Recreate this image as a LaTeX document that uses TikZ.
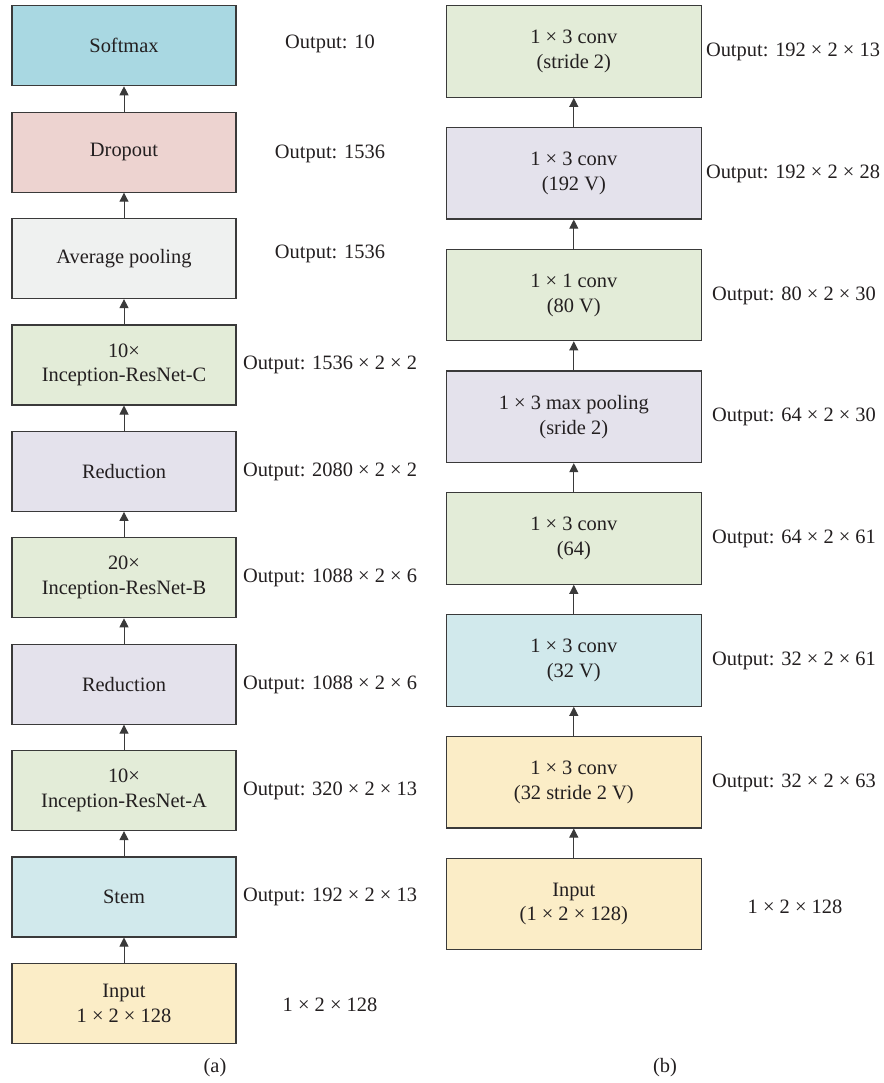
\documentclass[tikz,border=0pt]{standalone}
\usepackage{fontspec}
\setmainfont{Liberation Serif}
\usetikzlibrary{arrows.meta}
\definecolor{cSoft}{HTML}{A9D8E2}
\definecolor{cDrop}{HTML}{EDD3D0}
\definecolor{cAvg}{HTML}{EFF1F0}
\definecolor{cGreen}{HTML}{E3ECD8}
\definecolor{cLav}{HTML}{E4E2EC}
\definecolor{cBlue}{HTML}{D1E9EC}
\definecolor{cYel}{HTML}{FBEDC7}
\definecolor{cEdge}{HTML}{3A3A3A}
\definecolor{cText}{HTML}{231F20}
\tikzset{
  txt/.style={font=\fontsize{20.5}{25}\selectfont, text=cText, align=center, inner sep=0pt},
  lbox/.style={txt, draw=cEdge, line width=1.2bp, minimum width=224bp, minimum height=80bp},
  rbox/.style={txt, draw=cEdge, line width=1.2bp, minimum width=255bp, minimum height=91.5bp},
  outlab/.style={txt},
  flow/.style={draw=cEdge, line width=1bp, -{Triangle[length=9bp,width=9bp]}}
}
\begin{document}
\begin{tikzpicture}[x=1bp, y=-1bp]
\useasboundingbox (0,0) rectangle (884,1083);
% ---- (a) Inception-ResNet network ----
\node[lbox, fill=cSoft] (a1) at (124,45.7) {Softmax};
\node[lbox, fill=cDrop] (a2) at (124,152.1) {Dropout};
\node[lbox, fill=cAvg] (a3) at (124,258.5) {Average pooling};
\node[lbox, fill=cGreen] (a4) at (124,364.9) {10×\\Inception-ResNet-C};
\node[lbox, fill=cLav] (a5) at (124,471.3) {Reduction};
\node[lbox, fill=cGreen] (a6) at (124,577.7) {20×\\Inception-ResNet-B};
\node[lbox, fill=cLav] (a7) at (124,684.1) {Reduction};
\node[lbox, fill=cGreen] (a8) at (124,790.5) {10×\\Inception-ResNet-A};
\node[lbox, fill=cBlue] (a9) at (124,896.9) {Stem};
\node[lbox, fill=cYel] (a10) at (124,1003.3) {Input\\1 × 2 × 128};
\foreach \i/\j in {2/1,3/2,4/3,5/4,6/5,7/6,8/7,9/8,10/9}
  \draw[flow] (a\i.north) -- (a\j.south);
\node[outlab] (la1) at (330,43.5) {Output: 10};
\node[outlab] (la2) at (330,154) {Output: 1536};
\node[outlab] (la3) at (330,254) {Output: 1536};
\node[outlab] (la4) at (330,365) {Output: 1536 × 2 × 2};
\node[outlab] (la5) at (330,471.5) {Output: 2080 × 2 × 2};
\node[outlab] (la6) at (330,578) {Output: 1088 × 2 × 6};
\node[outlab] (la7) at (330,684.5) {Output: 1088 × 2 × 6};
\node[outlab] (la8) at (330,791) {Output: 320 × 2 × 13};
\node[outlab] (la9) at (330,897) {Output: 192 × 2 × 13};
\node[outlab] (la10) at (330,1005) {1 × 2 × 128};
\node[outlab] (capa) at (215,1068) {(a)};
% ---- (b) Stem block ----
\node[rbox, fill=cGreen] (b1) at (573.8,51.5) {1 × 3 conv\\(stride 2)};
\node[rbox, fill=cLav] (b2) at (573.8,173.3) {1 × 3 conv\\(192 V)};
\node[rbox, fill=cGreen] (b3) at (573.8,295) {1 × 1 conv\\(80 V)};
\node[rbox, fill=cLav] (b4) at (573.8,416.8) {1 × 3 max pooling\\(sride 2)};
\node[rbox, fill=cGreen] (b5) at (573.8,538.5) {1 × 3 conv\\(64)};
\node[rbox, fill=cBlue] (b6) at (573.8,660.5) {1 × 3 conv\\(32 V)};
\node[rbox, fill=cYel] (b7) at (573.8,782.2) {1 × 3 conv\\(32 stride 2 V)};
\node[rbox, fill=cYel] (b8) at (573.8,904) {Input\\(1 × 2 × 128)};
\foreach \i/\j in {2/1,3/2,4/3,5/4,6/5,7/6,8/7}
  \draw[flow] (b\i.north) -- (b\j.south);
\node[outlab] (lb1) at (793,52) {Output: 192 × 2 × 13};
\node[outlab] (lb2) at (793,174) {Output: 192 × 2 × 28};
\node[outlab] (lb3) at (794,296) {Output: 80 × 2 × 30};
\node[outlab] (lb4) at (794,417) {Output: 64 × 2 × 30};
\node[outlab] (lb5) at (794,539) {Output: 64 × 2 × 61};
\node[outlab] (lb6) at (794,661) {Output: 32 × 2 × 61};
\node[outlab] (lb7) at (794,783) {Output: 32 × 2 × 63};
\node[outlab] (lb8) at (795,907) {1 × 2 × 128};
\node[outlab] (capb) at (665,1068) {(b)};
\end{tikzpicture}
\end{document}
